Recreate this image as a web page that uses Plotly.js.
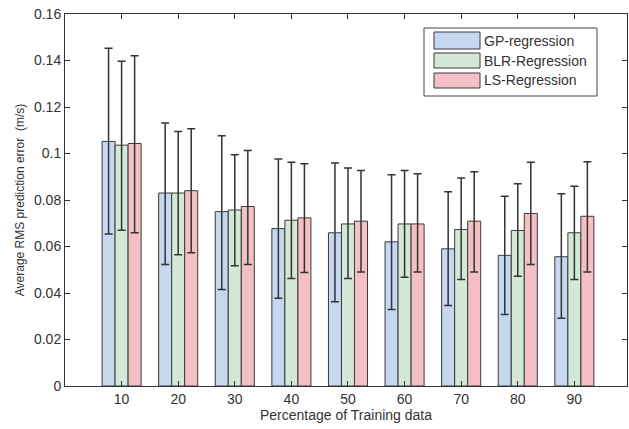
<!DOCTYPE html>
<html>
<head>
<meta charset="utf-8">
<script src="https://cdn.plot.ly/plotly-3.0.1.min.js"></script>
<style>html,body{margin:0;padding:0;background:#fff;}#chart{width:629px;height:429px;}</style>
</head>
<body>
<div id="chart"></div>
<script>
// Data
const categories = [10, 20, 30, 40, 50, 60, 70, 80, 90];
const seriesNames = ["GP-regression", "BLR-Regression", "LS-Regression"];

const gpMean  = [0.1052, 0.0830, 0.0750, 0.0677, 0.0659, 0.0620, 0.0590, 0.0562, 0.0556];
const gpUpper = [0.1453, 0.1131, 0.1076, 0.0976, 0.0959, 0.0909, 0.0835, 0.0816, 0.0827];
const gpLower = [0.0654, 0.0523, 0.0415, 0.0377, 0.0362, 0.0329, 0.0346, 0.0308, 0.0291];

const blrMean  = [0.1036, 0.0830, 0.0757, 0.0713, 0.0697, 0.0697, 0.0673, 0.0669, 0.0659];
const blrUpper = [0.1397, 0.1095, 0.0995, 0.0962, 0.0938, 0.0927, 0.0895, 0.0870, 0.0859];
const blrLower = [0.0670, 0.0565, 0.0517, 0.0462, 0.0462, 0.0468, 0.0458, 0.0472, 0.0458];

const lsMean  = [0.1043, 0.0840, 0.0772, 0.0723, 0.0709, 0.0697, 0.0709, 0.0742, 0.0730];
const lsUpper = [0.1420, 0.1106, 0.1013, 0.0956, 0.0927, 0.0913, 0.0922, 0.0962, 0.0965];
const lsLower = [0.0659, 0.0573, 0.0523, 0.0488, 0.0490, 0.0490, 0.0490, 0.0523, 0.0490];

const yTicks = [0, 0.02, 0.04, 0.06, 0.08, 0.1, 0.12, 0.14, 0.16];
const yTickLabels = ["0", "0.02", "0.04", "0.06", "0.08", "0.1", "0.12", "0.14", "0.16"];

const colors = ["#c6d7f0", "#d3e8d6", "#f5c0c3"];
const edge = "#3a3a3a";
const font = "Liberation Sans, Arial, sans-serif";

function mk(name, mean, up, lo, color) {
  return {
    type: "bar", name: name, x: categories, y: mean,
    marker: {color: color, line: {color: edge, width: 1}},
    error_y: {
      type: "data", symmetric: false,
      array: up.map((u, i) => u - mean[i]),
      arrayminus: lo.map((l, i) => mean[i] - l),
      color: "#333", thickness: 1.5, width: 4
    },
    showlegend: false, hoverinfo: "skip"
  };
}

const data = [
  mk(seriesNames[0], gpMean, gpUpper, gpLower, colors[0]),
  mk(seriesNames[1], blrMean, blrUpper, blrLower, colors[1]),
  mk(seriesNames[2], lsMean, lsUpper, lsLower, colors[2])
];

// custom MATLAB-style legend (paper coords)
const L = 65, R = 627, T = 14, B = 386;
const px = x => (x - L) / (R - L);
const py = y => (B - y) / (B - T);
const shapes = [{
  type: "rect", xref: "paper", yref: "paper",
  x0: px(424), x1: px(597), y0: py(96), y1: py(28),
  line: {color: "#444", width: 1}, fillcolor: "#fff"
}];
const annotations = [];
const rows = [[32, 49], [53, 68], [73, 88]];
rows.forEach((r, i) => {
  shapes.push({
    type: "rect", xref: "paper", yref: "paper",
    x0: px(434), x1: px(480), y0: py(r[1]), y1: py(r[0]),
    line: {color: edge, width: 1}, fillcolor: colors[i]
  });
  annotations.push({
    xref: "paper", yref: "paper", x: px(482), y: py((r[0] + r[1]) / 2),
    xanchor: "left", yanchor: "middle", showarrow: false,
    text: seriesNames[i], font: {family: font, size: 14, color: "#333"}
  });
});

const layout = {
  width: 629, height: 429,
  margin: {l: L, r: 629 - R, t: T, b: 429 - B},
  paper_bgcolor: "#fff", plot_bgcolor: "#fff",
  barmode: "group", bargap: 0.31, bargroupgap: 0,
  font: {family: font, size: 14, color: "#333"},
  xaxis: {
    range: [0, 99.3], tickvals: categories, ticktext: categories.map(String),
    ticks: "inside", ticklen: 5, tickcolor: "#333",
    showline: true, linecolor: "#333", linewidth: 1, mirror: "ticks",
    showgrid: false, zeroline: false,
    tickfont: {family: font, size: 14, color: "#333"},
    title: {text: "Percentage of Training data", font: {family: font, size: 14, color: "#333"}, standoff: 2}
  },
  yaxis: {
    range: [0, 0.16], tickvals: yTicks, ticktext: yTickLabels,
    ticks: "inside", ticklen: 5, tickcolor: "#333",
    showline: true, linecolor: "#333", linewidth: 1, mirror: "ticks",
    showgrid: false, zeroline: false,
    tickfont: {family: font, size: 14, color: "#333"},
    title: {text: "Average RMS prediction error  (m/s)", font: {family: font, size: 12, color: "#333"}, standoff: 6}
  },
  shapes: shapes,
  annotations: annotations
};

Plotly.newPlot("chart", data, layout, {displayModeBar: false, staticPlot: true});
</script>
</body>
</html>
